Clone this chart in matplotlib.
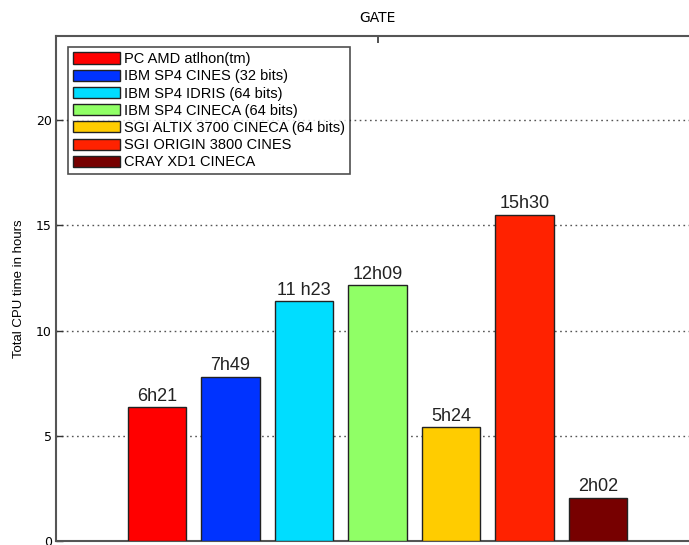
import matplotlib.pyplot as plt

# data
machines = ['PC AMD atlhon(tm)', 'IBM SP4 CINES (32 bits)', 'IBM SP4 IDRIS (64 bits)',
            'IBM SP4 CINECA (64 bits)', 'SGI ALTIX 3700 CINECA (64 bits)',
            'SGI ORIGIN 3800 CINES', 'CRAY XD1 CINECA']
hours = [6.35, 7.817, 11.383, 12.15, 5.4, 15.5, 2.033]
time_labels = ['6h21', '7h49', '11 h23', '12h09', '5h24', '15h30', '2h02']
colors = ['#ff0000', '#0033ff', '#00ddff', '#90ff66', '#ffcc00', '#ff2200', '#770000']

plt.rcParams['font.family'] = ['Liberation Sans', 'DejaVu Sans']

W, H = 689, 545
fig = plt.figure(figsize=(W / 100, H / 100), dpi=100)
# axes runs past the right edge in the reference (cropped image)
left, right, top, bottom = 56, 699, 36, 541
ax = fig.add_axes([left / W, 1 - bottom / H, (right - left) / W, (bottom - top) / H])

x = list(range(len(hours)))
bars = ax.bar(x, hours, width=0.8, color=colors, edgecolor='#222222', linewidth=1.0,
              label=machines, zorder=3)

for xi, h, lab in zip(x, hours, time_labels):
    ax.annotate(lab, (xi, h), xytext=(0, 2), textcoords='offset points',
                ha='center', va='bottom', fontsize=13, color='#222222', zorder=4)

half = (right - left) / 2 / 73.5
ax.set_xlim(3 - half, 3 + half)
ax.set_ylim(0, 24)
ax.set_yticks([0, 5, 10, 15, 20])
ax.yaxis.grid(True, linestyle=(0, (1.2, 2.5)), color='#555555', linewidth=1.0, zorder=0)

ax.xaxis.set_ticks_position('top')
ax.xaxis.set_label_position('top')
ax.set_xticks([3])
ax.set_xticklabels(['GATE'], fontsize=10, family='DejaVu Sans')
ax.tick_params(axis='x', direction='in', length=5, width=1.2, color='#333333', pad=8)
ax.tick_params(axis='y', direction='in', length=5, width=1.0, labelsize=9, color='#333333', pad=3)
for t in ax.get_yticklabels():
    t.set_family('DejaVu Sans')
ax.set_ylabel('Total CPU time in hours', fontsize=9.5, labelpad=8)

for s in ax.spines.values():
    s.set_color('#555555')
    s.set_linewidth(1.5)

leg = ax.legend(handles=bars, labels=machines, loc='upper left',
                bbox_to_anchor=(68 / W, 1 - 47 / H), bbox_transform=fig.transFigure,
                borderaxespad=0, fontsize=10.5, frameon=True, fancybox=False,
                edgecolor='#222222', handlelength=3.2, handleheight=0.8,
                handletextpad=0.3, labelspacing=0.22, borderpad=0.35)
leg.get_frame().set_linewidth(1.2)

fig.savefig('out.png', dpi=100)
